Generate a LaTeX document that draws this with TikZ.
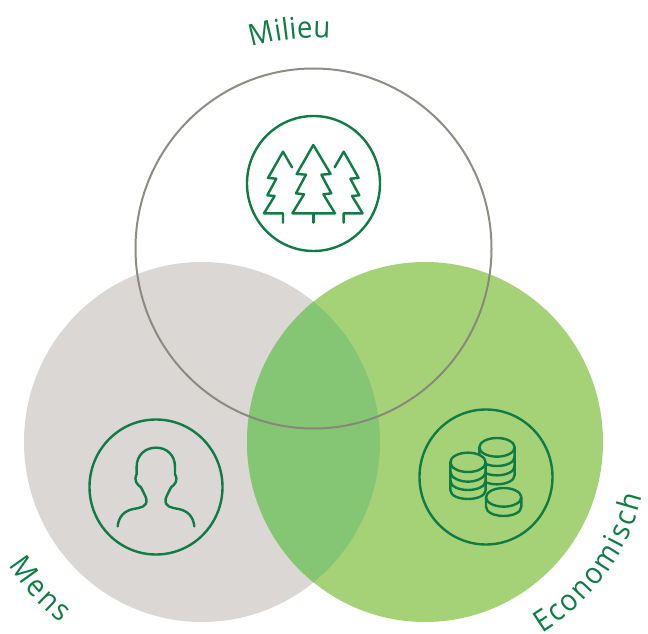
\documentclass[tikz,border=0pt]{standalone}
\usepackage{fontspec}
\setmainfont[FakeStretch=0.92]{Open Sans}
\usetikzlibrary{decorations.text}
\definecolor{dkgreen}{HTML}{0F7B45}
\definecolor{greycirc}{HTML}{DAD7D5}
\definecolor{greencirc}{HTML}{A6D277}
\definecolor{lens}{HTML}{84C673}
\definecolor{ring}{HTML}{85847B}
\newcommand{\lblfont}{\fontsize{30}{32}\selectfont\color{dkgreen}}
\tikzset{
  x=1pt,y=1pt,
  iconline/.style={draw=dkgreen,line width=2.4pt,line join=round,line cap=round},
  lbl/.style={decorate,decoration={text along path,text align={fit to path},text={|\lblfont|#1}}},
  zoomA/.style={shift={#1},x=0.3333pt,y=-0.3333pt},
  bigc/.style={x radius=178,y radius=180}
}
\begin{document}
\begin{tikzpicture}
\useasboundingbox (0,0) rectangle (648,633);
\fill[white] (0,0) rectangle (648,633);
% big circles
\fill[greycirc] (202,191) ellipse[bigc];
\fill[greencirc] (425,191) ellipse[bigc];
\begin{scope}
  \clip (202,191) ellipse[bigc];
  \fill[lens] (425,191) ellipse[bigc];
\end{scope}
\draw[ring,line width=2pt,opacity=.92] (313.5,384.5) ellipse[bigc];
% icon rings
\draw[iconline] (313.5,449.5) ellipse[x radius=66.5,y radius=67.5];
\draw[iconline] (156,146) ellipse[x radius=66.5,y radius=67.5];
\draw[iconline] (486,156) ellipse[x radius=66.5,y radius=67.5];
% trees
\begin{scope}[zoomA={(230,533)}]
  \draw[iconline] (250,135)--(302,222)--(274,224)--(304,280)--(280,283)--(315,340)--(187,340)--(222,283)--(198,280)--(228,224)--(200,222)--cycle;
  \draw[iconline] (250,340)--(250,368);
  \draw[iconline] (186,202)--(159,155)--(114,234)--(139,236)--(112,286)--(134,288)--(102,340)--(159,340)--(159,368);
  \draw[iconline] (314,202)--(341,155)--(386,234)--(361,236)--(388,286)--(366,288)--(398,340)--(341,340)--(341,368);
\end{scope}
% person
\begin{scope}[zoomA={(80,223)}]
  \draw[iconline] (113,349) .. controls (116,318) and (135,302) .. (160,297)
    .. controls (180,293) and (203,292) .. (199,267)
    .. controls (196,256) and (189,245) .. (183,232)
    .. controls (172,224) and (160,212) .. (170,193)
    -- (170,170) .. controls (170,135) and (196,113) .. (228,113)
    .. controls (260,113) and (285,135) .. (285,170)
    -- (285,193) .. controls (296,212) and (284,224) .. (273,232)
    .. controls (267,245) and (260,256) .. (257,267)
    .. controls (253,292) and (276,293) .. (296,297)
    .. controls (321,302) and (340,318) .. (343,349);
\end{scope}
% coins
\begin{scope}[zoomA={(410,233)}]
  % back stack
  \draw[iconline] (208,142) -- (208,225) .. controls (208,243) and (235,253) .. (261,253) .. controls (287,253) and (314,243) .. (314,225) -- (314,142);
  \draw[iconline] (208,170) .. controls (208,188) and (235,198) .. (261,198) .. controls (287,198) and (314,188) .. (314,170);
  \draw[iconline] (208,198) .. controls (208,216) and (235,226) .. (261,226) .. controls (287,226) and (314,216) .. (314,198);
  \draw[iconline] (261,142) ellipse[x radius=53,y radius=28];
  % front stack
  \fill[greencirc] (121,187) -- (121,270) .. controls (121,288) and (148,297) .. (174,297) .. controls (200,297) and (227,288) .. (227,270) -- (227,187) -- cycle;
  \draw[iconline,fill=greencirc] (174,187) ellipse[x radius=53,y radius=29];
  \draw[iconline] (121,187) -- (121,270) .. controls (121,288) and (148,297) .. (174,297) .. controls (200,297) and (227,288) .. (227,270) -- (227,187);
  \draw[iconline] (121,215) .. controls (121,233) and (148,245) .. (174,245) .. controls (200,245) and (227,233) .. (227,215);
  \draw[iconline] (121,242) .. controls (121,260) and (148,270) .. (174,270) .. controls (200,270) and (227,260) .. (227,242);
  % small coin
  \draw[iconline,fill=greencirc] (228,292) -- (228,320) .. controls (228,338) and (255,348) .. (281,348) .. controls (307,348) and (334,338) .. (334,320) -- (334,292);
  \draw[iconline,fill=greencirc] (281,292) ellipse[x radius=53,y radius=28];
\end{scope}
% labels
\path[lbl=Milieu] (313.5,384) ++(107:211) arc[start angle=107,end angle=85.5,radius=211];
\path[lbl=Mens] (202,190.5) ++(212.5:229) arc[start angle=212.5,end angle=232,radius=229];
\path[lbl=Economisch] (425,190.5) ++(-58.5:224) arc[start angle=-58.5,end angle=-14,radius=224];
\end{tikzpicture}
\end{document}
